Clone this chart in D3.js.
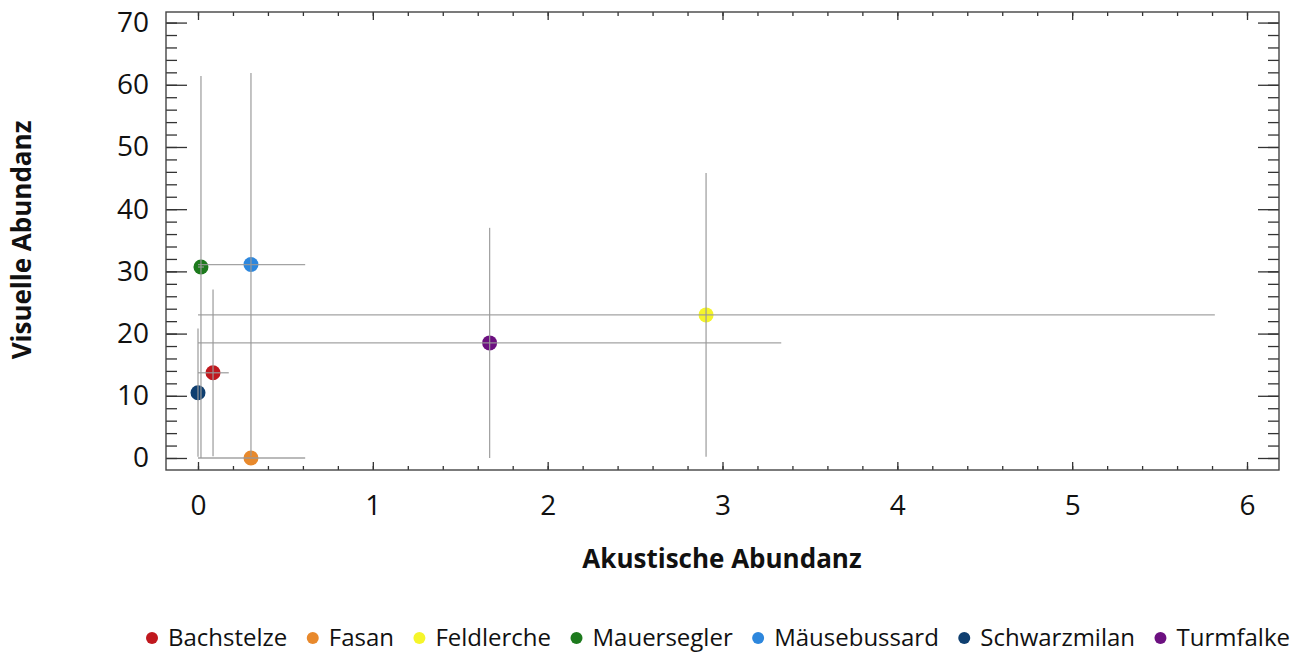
<!DOCTYPE html>
<html>
<head>
<meta charset="utf-8">
<script src="https://cdn.jsdelivr.net/npm/d3@7"></script>
<style>
  body { margin: 0; background: #fff; }
  svg { display: block; font-family: "Open Sans", sans-serif; }
</style>
</head>
<body>
<div id="chart"></div>
<script>
// data
const species = ["Bachstelze", "Fasan", "Feldlerche", "Mauersegler", "Mäusebussard", "Schwarzmilan", "Turmfalke"];
const colors = ["#c0181e", "#e8892c", "#f5f52a", "#1d7a1d", "#2d87dd", "#0f3f70", "#6c1080"];
const akustisch = [0.086, 0.303, 2.906, 0.017, 0.303, 0.0, 1.668];
const akustischErr = [0.09, 0.31, 2.91, 0.017, 0.31, 0.0, 1.668];
const visuell = [13.7, 0.0, 23.0, 30.7, 31.1, 10.5, 18.5];
const visuellErr = [13.4, 0.0, 22.8, 30.7, 30.8, 10.3, 18.5];
const xTicks = [0, 1, 2, 3, 4, 5, 6];
const yTicks = [0, 10, 20, 30, 40, 50, 60, 70];

const width = 1301;
const height = 653;
const plotLeft = 166, plotRight = 1279, plotTop = 12, plotBottom = 470;

const svg = d3.select("#chart")
    .append("svg")
    .attr("width", width)
    .attr("height", height);

const x = d3.scaleLinear().domain([-0.183, 6.183]).range([plotLeft, plotRight]);
const y = d3.scaleLinear().domain([-1.93, 71.7]).range([plotBottom, plotTop]);

const xMinor = d3.range(0, 6.01, 0.2);
const yMinor = d3.range(0, 70.1, 2);

// ticks, all pointing inward
function tickAxis(axis, transform) {
    const g = svg.append("g").attr("transform", transform).call(axis);
    g.select(".domain").remove();
    g.selectAll(".tick line").attr("stroke", "#333").attr("stroke-width", 1.3);
    return g;
}

tickAxis(d3.axisBottom(x).tickValues(xMinor).tickSize(-4).tickFormat(""), `translate(0,${plotBottom})`);
tickAxis(d3.axisTop(x).tickValues(xMinor).tickSize(-4).tickFormat(""), `translate(0,${plotTop})`);
tickAxis(d3.axisTop(x).tickValues(xTicks).tickSize(-8).tickFormat(""), `translate(0,${plotTop})`);
const xAxis = tickAxis(d3.axisBottom(x).tickValues(xTicks).tickSize(-8).tickPadding(25).tickFormat(d3.format("d")), `translate(0,${plotBottom})`);

tickAxis(d3.axisLeft(y).tickValues(yMinor).tickSize(-11).tickFormat(""), `translate(${plotLeft},0)`);
tickAxis(d3.axisRight(y).tickValues(yMinor).tickSize(-11).tickFormat(""), `translate(${plotRight},0)`);
tickAxis(d3.axisRight(y).tickValues(yTicks).tickSize(-21).tickFormat(""), `translate(${plotRight},0)`);
const yAxis = tickAxis(d3.axisLeft(y).tickValues(yTicks).tickSize(-21).tickPadding(17).tickFormat(d3.format("d")), `translate(${plotLeft},0)`);

xAxis.selectAll("text").attr("font-size", 28).attr("fill", "#111").style("font-family", "Open Sans");
yAxis.selectAll("text").attr("font-size", 28).attr("fill", "#111").style("font-family", "Open Sans");

// frame
svg.append("rect")
    .attr("x", plotLeft).attr("y", plotTop)
    .attr("width", plotRight - plotLeft).attr("height", plotBottom - plotTop)
    .attr("fill", "none")
    .attr("stroke", "#444")
    .attr("stroke-width", 1.4);

const data = species.map((s, i) => ({
    name: s, color: colors[i],
    x: akustisch[i], xe: akustischErr[i],
    y: visuell[i], ye: visuellErr[i]
}));

// points
svg.append("g").selectAll("circle")
    .data(data)
    .enter()
    .append("circle")
    .attr("cx", d => x(d.x))
    .attr("cy", d => y(d.y))
    .attr("r", 7.5)
    .attr("fill", d => d.color);

// error bars drawn over the points
const bars = svg.append("g").attr("stroke", "#999").attr("stroke-width", 1.3).attr("stroke-opacity", 0.9);
bars.selectAll(".xe")
    .data(data.filter(d => d.xe > 0))
    .enter()
    .append("line")
    .attr("x1", d => x(Math.max(0, d.x - d.xe)))
    .attr("x2", d => x(d.x + d.xe))
    .attr("y1", d => y(d.y))
    .attr("y2", d => y(d.y));
bars.selectAll(".ye")
    .data(data.filter(d => d.ye > 0))
    .enter()
    .append("line")
    .attr("x1", d => x(d.x))
    .attr("x2", d => x(d.x))
    .attr("y1", d => y(Math.max(0, d.y - d.ye)))
    .attr("y2", d => y(d.y + d.ye));

// axis titles
svg.append("text")
    .attr("x", 722).attr("y", 568)
    .attr("text-anchor", "middle")
    .attr("font-size", 26).attr("font-weight", "bold")
    .attr("fill", "#111")
    .text("Akustische Abundanz");

svg.append("text")
    .attr("transform", "translate(31,240) rotate(-90)")
    .attr("text-anchor", "middle")
    .attr("font-size", 26).attr("font-weight", "bold")
    .attr("fill", "#111")
    .text("Visuelle Abundanz");

// legend
const legend = svg.append("g").attr("transform", "translate(0,638)");
const items = legend.selectAll("g")
    .data(data)
    .enter()
    .append("g");
items.append("circle").attr("r", 6).attr("fill", d => d.color);
items.append("text")
    .attr("x", 16).attr("dy", "0.35em")
    .attr("font-size", 24).attr("fill", "#111")
    .text(d => d.name);

const legendStart = 152, legendEnd = 1290;
const widths = [];
items.each(function () { widths.push(16 + d3.select(this).select("text").node().getComputedTextLength()); });
const gap = (legendEnd - legendStart - d3.sum(widths)) / (widths.length - 1);
let cursor = legendStart;
items.each(function (d, i) {
    d3.select(this).attr("transform", `translate(${cursor},0)`);
    cursor += widths[i] + gap;
});
</script>
</body>
</html>
